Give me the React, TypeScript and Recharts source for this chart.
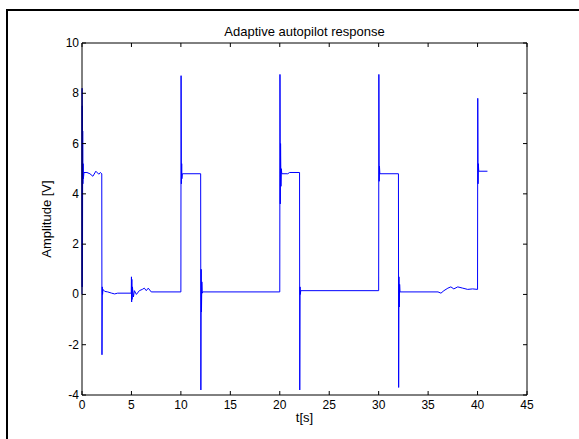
import React from 'react';
import { LineChart, Line, XAxis, YAxis } from 'recharts';

// Sampled response of the adaptive autopilot (time in s, amplitude in V)
const timeSec = [
  0, 0.01, 0.02, 0.03, 0.05, 0.07, 0.09, 0.11, 0.14, 0.2, 0.5, 0.8, 1.1, 1.4, 1.7, 1.85, 2.0,
  2.02, 2.05, 2.08, 2.12, 2.3, 2.6, 3.0, 3.3, 3.6, 4.98,
  5.0, 5.02, 5.04, 5.06, 5.1, 5.2, 5.3, 5.5, 5.8, 6.1, 6.3, 6.5, 6.7, 7.0, 10.0,
  10.02, 10.05, 10.08, 10.1, 10.15, 12.0,
  12.02, 12.05, 12.08, 12.12, 12.16, 12.2, 20.0,
  20.02, 20.05, 20.08, 20.12, 20.16, 20.2, 20.8, 21.0, 22.0,
  22.02, 22.05, 22.08, 22.12, 30.0,
  30.02, 30.05, 30.08, 30.12, 32.0,
  32.02, 32.05, 32.08, 32.12, 32.16, 36.0, 36.3, 36.6, 37.0, 37.3, 37.6, 38.0, 38.5, 39.0, 39.5, 40.0,
  40.02, 40.05, 40.08, 40.12, 41.0,
];

const amplitudeV = [
  0, 8.2, 0.3, 7.5, 1.0, 6.5, 4.4, 5.2, 4.6, 4.85, 4.85, 4.8, 4.7, 4.9, 4.78, 4.85, 4.8,
  -2.4, 0.3, 0.0, 0.2, 0.12, 0.1, 0.05, 0.02, 0.05, 0.05,
  0.7, -0.3, 0.6, -0.2, 0.3, -0.1, 0.15, 0.0, 0.15, 0.2, 0.25, 0.15, 0.25, 0.1, 0.1,
  8.7, 4.4, 5.2, 4.6, 4.8, 4.8,
  -3.8, 1.0, -0.7, 0.5, 0.05, 0.1, 0.1,
  8.75, 3.6, 6.0, 4.3, 5.0, 4.8, 4.8, 4.85, 4.85,
  -3.8, 0.3, 0.0, 0.15, 0.15,
  8.75, 4.5, 5.1, 4.8, 4.8,
  -3.7, 0.7, -0.5, 0.4, 0.1, 0.1, 0.05, 0.15, 0.25, 0.3, 0.22, 0.3, 0.25, 0.2, 0.22, 0.2,
  7.8, 4.4, 5.2, 4.9, 4.9,
];

const xTicks = [0, 5, 10, 15, 20, 25, 30, 35, 40, 45];
const yTicks = [-4, -2, 0, 2, 4, 6, 8, 10];

const data = timeSec.map((t, i) => ({ t, v: amplitudeV[i] }));

const FONT = '"Liberation Sans", Arial, sans-serif';
const TICK_FONT = 12;
const LABEL_FONT = 13;
const TICK_LEN = 4;

const BottomTick = (props: any) => {
  const { x, y, payload } = props;
  return (
    <g>
      <line x1={x} y1={y} x2={x} y2={y - TICK_LEN} stroke="#000" />
      <text x={x} y={y + 14} textAnchor="middle" fontSize={TICK_FONT} fontFamily={FONT} fill="#000">
        {payload.value}
      </text>
    </g>
  );
};

const TopTick = (props: any) => {
  const { x, y } = props;
  return <line x1={x} y1={y} x2={x} y2={y + TICK_LEN} stroke="#000" />;
};

const LeftTick = (props: any) => {
  const { x, y, payload } = props;
  return (
    <g>
      <line x1={x} y1={y} x2={x + TICK_LEN} y2={y} stroke="#000" />
      <text x={x - 3} y={y + 4} textAnchor="end" fontSize={TICK_FONT} fontFamily={FONT} fill="#000">
        {payload.value}
      </text>
    </g>
  );
};

const RightTick = (props: any) => {
  const { x, y } = props;
  return <line x1={x} y1={y} x2={x - TICK_LEN} y2={y} stroke="#000" />;
};

export default function App() {
  return (
    <div
      style={{
        position: 'absolute',
        left: 0,
        top: 0,
        width: 579,
        height: 439,
        overflow: 'hidden',
        background: '#fff',
      }}
    >
      {/* figure frame, runs off the right and bottom edges */}
      <div
        style={{
          position: 'absolute',
          left: 6,
          top: 9,
          width: 640,
          height: 500,
          border: '2px solid #000',
        }}
      />
      <div style={{ position: 'absolute', left: 0, top: 0 }}>
        <LineChart
          width={579}
          height={439}
          data={data}
          margin={{ top: 42, right: 51, bottom: 14, left: 48 }}
        >
          <XAxis
            xAxisId="bottom"
            dataKey="t"
            type="number"
            domain={[0, 45]}
            ticks={xTicks}
            height={30}
            tickSize={0}
            tickMargin={0}
            tickLine={false}
            axisLine={{ stroke: '#000' }}
            tick={<BottomTick />}
            interval={0}
          />
          <XAxis
            xAxisId="top"
            orientation="top"
            dataKey="t"
            type="number"
            domain={[0, 45]}
            ticks={xTicks}
            height={1}
            tickSize={0}
            tickMargin={0}
            tickLine={false}
            axisLine={{ stroke: '#000' }}
            tick={<TopTick />}
            interval={0}
          />
          <YAxis
            yAxisId="left"
            type="number"
            domain={[-4, 10]}
            ticks={yTicks}
            width={34}
            tickSize={0}
            tickMargin={0}
            tickLine={false}
            axisLine={{ stroke: '#000' }}
            tick={<LeftTick />}
            interval={0}
          />
          <YAxis
            yAxisId="right"
            orientation="right"
            type="number"
            domain={[-4, 10]}
            ticks={yTicks}
            width={1}
            tickSize={0}
            tickMargin={0}
            tickLine={false}
            axisLine={{ stroke: '#000' }}
            tick={<RightTick />}
            interval={0}
          />
          <Line
            xAxisId="bottom"
            yAxisId="left"
            type="linear"
            dataKey="v"
            stroke="#0000ff"
            strokeWidth={1}
            dot={false}
            isAnimationActive={false}
          />
          <Line
            xAxisId="top"
            yAxisId="right"
            type="linear"
            dataKey="v"
            stroke="none"
            dot={false}
            activeDot={false}
            isAnimationActive={false}
          />
        </LineChart>
      </div>
      <svg
        width={579}
        height={439}
        style={{ position: 'absolute', left: 0, top: 0, pointerEvents: 'none' }}
      >
        <text x={304.5} y={36} textAnchor="middle" fontSize={LABEL_FONT} fontFamily={FONT} fill="#000">
          Adaptive autopilot response
        </text>
        <text x={304.5} y={422} textAnchor="middle" fontSize={LABEL_FONT} fontFamily={FONT} fill="#000">
          t[s]
        </text>
        <text
          x={51}
          y={219}
          textAnchor="middle"
          fontSize={LABEL_FONT}
          fontFamily={FONT}
          fill="#000"
          transform="rotate(-90 51 219)"
        >
          Amplitude [V]
        </text>
      </svg>
    </div>
  );
}
